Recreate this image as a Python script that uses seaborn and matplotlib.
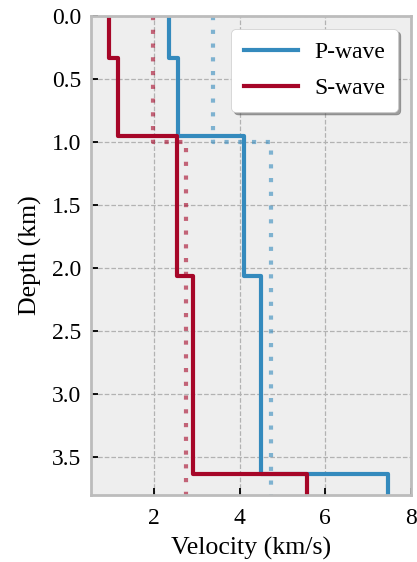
import numpy as np
import pandas as pd
import matplotlib
matplotlib.use("Agg")
import matplotlib.pyplot as plt
import seaborn as sns

# Layered model (solid lines)
layer_tops = [0.0, 0.33, 0.95, 2.06, 3.63]
vp_layers = [2.35, 2.56, 4.10, 4.50, 7.47]
vs_layers = [0.95, 1.16, 2.54, 2.91, 5.58]

# Reference two-layer model (dotted lines)
ref_tops = [0.0, 1.0]
vp_ref = [3.38, 4.74]
vs_ref = [1.97, 2.75]

max_depth = 3.8

def step_profile(tops, vals, bottom):
    d, v = [], []
    bots = list(tops[1:]) + [bottom]
    for t, b, val in zip(tops, bots, vals):
        d += [t, b]
        v += [val, val]
    return d, v

plt.style.use("bmh")
plt.rcParams["font.family"] = "serif"
plt.rcParams["font.serif"] = ["Liberation Serif", "DejaVu Serif"]

fig = plt.figure(figsize=(4.17, 5.62), dpi=100)
ax = fig.add_axes([91/417, 1-495/562, 320/417, 479/562])
ax.set_facecolor("#eeeeee")

cp, cs = "#348ABD", "#A60628"

for tops, vals, col, ls, alpha in [
    (ref_tops, vp_ref, cp, (0, (1, 2.3)), 0.6),
    (ref_tops, vs_ref, cs, (0, (1, 2.3)), 0.6),
    (layer_tops, vp_layers, cp, "-", 1.0),
    (layer_tops, vs_layers, cs, "-", 1.0),
]:
    d, v = step_profile(tops, vals, max_depth)
    df = pd.DataFrame({"Velocity": v, "Depth": d})
    sns.lineplot(data=df, x="Velocity", y="Depth", sort=False, estimator=None,
                 color=col, lw=3, linestyle=ls, alpha=alpha, ax=ax,
                 legend=False)

ax.set_xlim(0.53, 8)
ax.set_ylim(max_depth, 0)
ax.set_xticks([2, 4, 6, 8])
yt = np.arange(0, 3.51, 0.5)
ax.set_yticks(yt)
ax.set_yticklabels([f"{t:.1f}" for t in yt])
ax.tick_params(labelsize=17, direction="in", length=5, width=1.3,
               colors="black")
ax.tick_params(axis="x", pad=9)
ax.tick_params(axis="y", pad=7)
ax.set_xlabel("Velocity (km/s)", fontsize=18.6, labelpad=6)
ax.set_ylabel("Depth (km)", fontsize=18.6, labelpad=7)
for s in ax.spines.values():
    s.set_color("#bcbcbc")
    s.set_linewidth(2)
ax.grid(True, color="#b2b2b2", linestyle="--", linewidth=0.9)

handles = [ax.lines[2], ax.lines[3]]
ax.legend(handles, ["P-wave", "S-wave"], loc="upper right", fontsize=17,
          frameon=True, fancybox=True, shadow=True, facecolor="white",
          framealpha=1, handlelength=2.25, handletextpad=0.7,
          borderpad=0.55, labelspacing=0.6, borderaxespad=0.55)

fig.savefig("out.png", dpi=100)
